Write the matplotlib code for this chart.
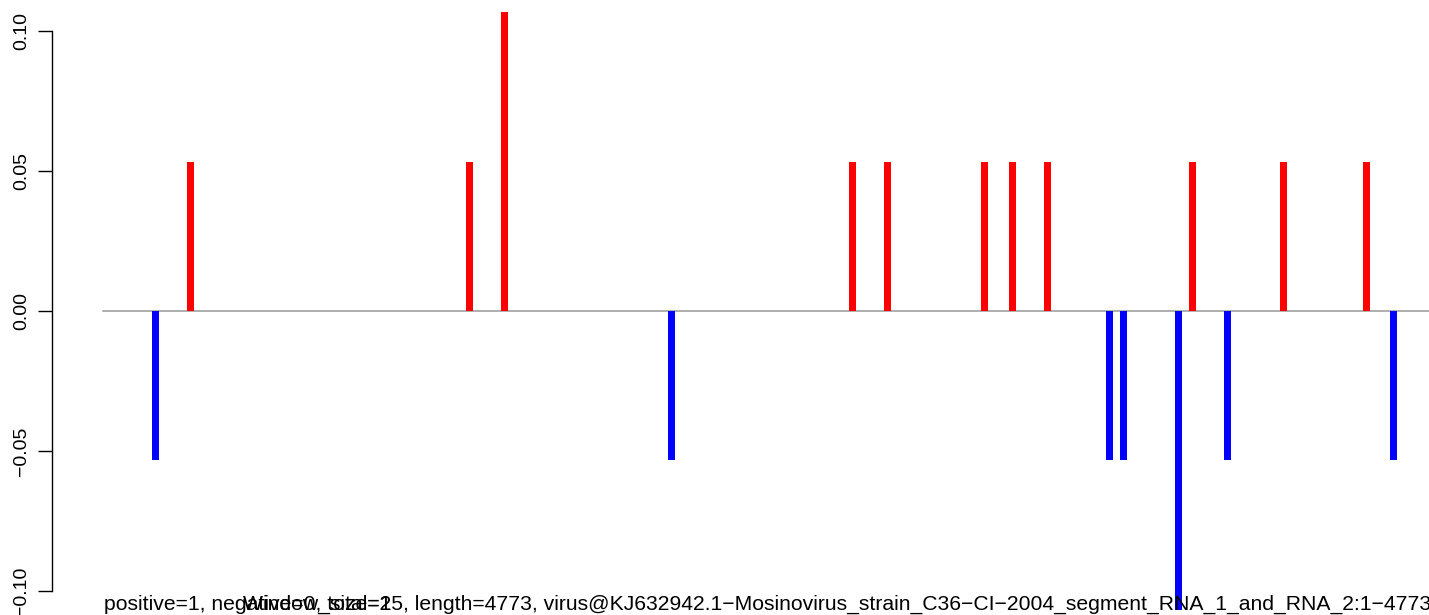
import matplotlib
matplotlib.use("Agg")
import matplotlib.pyplot as plt

positions = [188, 316, 1319, 1445, 2047, 2698, 2824, 3173, 3274, 3400,
             3623, 3674, 3871, 3921, 4047, 4250, 4549, 4645]
values = [-0.0533, 0.0533, 0.0533, 0.1067, -0.0533, 0.0533, 0.0533, 0.0533, 0.0533, 0.0533,
          -0.0533, -0.0533, -0.1067, 0.0533, -0.0533, 0.0533, 0.0533, -0.0533]
yticks = [-0.10, -0.05, 0.00, 0.05, 0.10]
ytick_labels = ["\u22120.10", "\u22120.05", "0.00", "0.05", "0.10"]
genome_length = 4773
window_size = 24
text_counts = "positive=1, negative=0, total=1"
text_info = ("Window_size=25, length=4773, virus@KJ632942.1\u2212Mosinovirus_strain_C36\u2212CI\u2212"
             "2004_segment_RNA_1_and_RNA_2:1\u22124773")

plt.rcParams['font.family'] = ['Liberation Sans', 'DejaVu Sans']

W, H = 1429, 615
fig = plt.figure(figsize=(W / 100, H / 100), dpi=100)
ax = fig.add_axes([52 / W, 0, 1 - 52 / W, 1])

px = genome_length / (1429 - 103)
ax.set_xlim(-51 * px, genome_length)
ax.set_ylim(-(615 - 311) / 2800, 311 / 2800)

colors = ['red' if v > 0 else 'blue' for v in values]
ax.bar(positions, values, width=window_size, color=colors, linewidth=0, zorder=2)
ax.plot([0, genome_length], [0, 0], color='#999999', lw=1.1, zorder=1)

for s in ['top', 'right', 'bottom']:
    ax.spines[s].set_visible(False)
ax.spines['left'].set_bounds(-0.10, 0.10)
ax.spines['left'].set_linewidth(1.0)
ax.set_xticks([])
ax.set_yticks(yticks)
ax.set_yticklabels(ytick_labels, rotation=90, va='center', fontsize=14)
ax.tick_params(axis='y', length=10, width=1.0, pad=6)

fig.text(104 / W, (615 - 610) / H, text_counts, fontsize=15.2, va='baseline', ha='left')
fig.text(243 / W, (615 - 610) / H, text_info, fontsize=15.2, va='baseline', ha='left')

fig.savefig("out.png", dpi=100)
